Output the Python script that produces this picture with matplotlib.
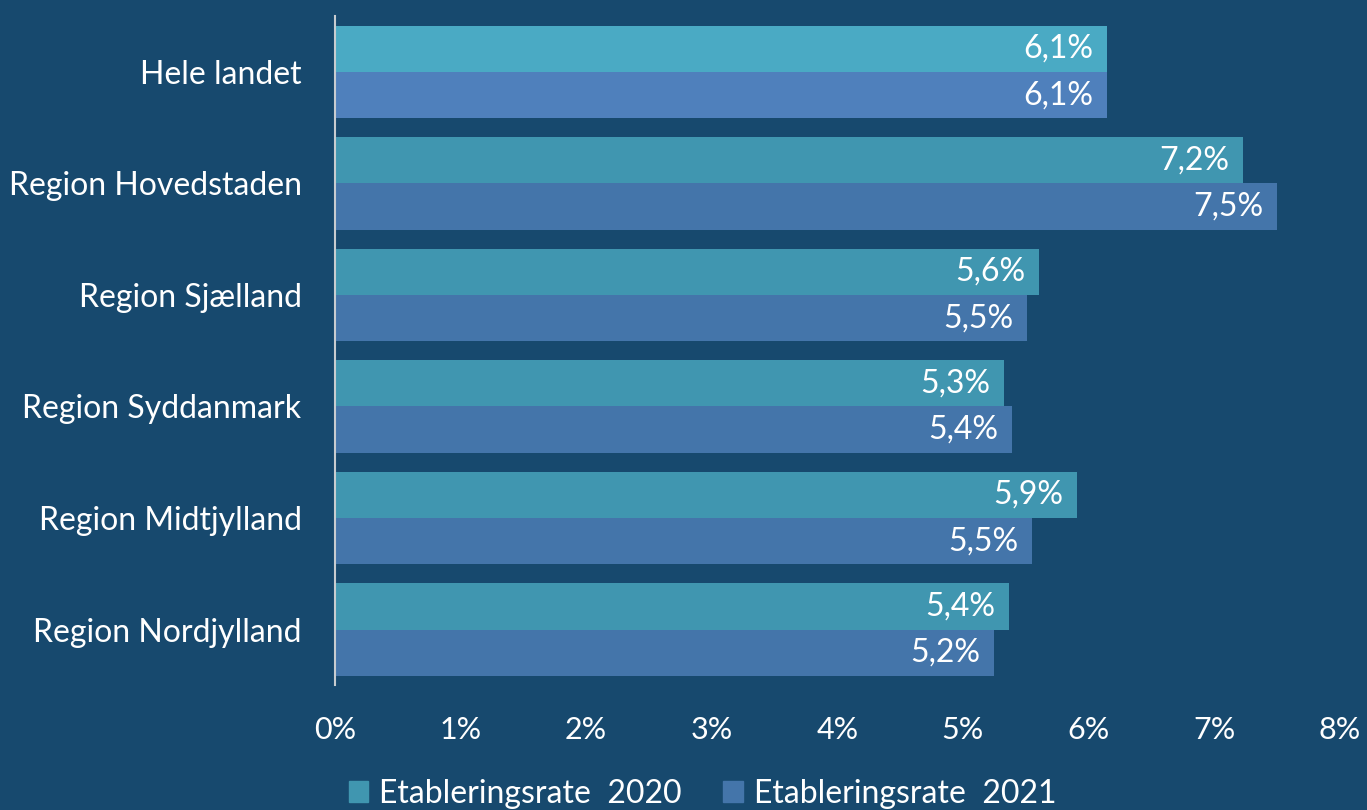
import numpy as np
import matplotlib.pyplot as plt
from matplotlib.patches import Patch

categories = ["Hele landet", "Region Hovedstaden", "Region Sjælland",
              "Region Syddanmark", "Region Midtjylland", "Region Nordjylland"]
# bar lengths, labels as printed
rate_2020 = [6.15, 7.23, 5.61, 5.33, 5.91, 5.37]
rate_2021 = [6.15, 7.50, 5.51, 5.39, 5.55, 5.25]
labels_2020 = ["6,1%", "7,2%", "5,6%", "5,3%", "5,9%", "5,4%"]
labels_2021 = ["6,1%", "7,5%", "5,5%", "5,4%", "5,5%", "5,2%"]
xticks = [0, 1, 2, 3, 4, 5, 6, 7, 8]

bg = "#17496e"
c20 = "#4096b0"
c21 = "#4475aa"
c20_total = "#4aaac4"
c21_total = "#4f80bc"

plt.rcParams['font.family'] = ['Lato', 'DejaVu Sans']

fig = plt.figure(figsize=(13.67, 8.1), dpi=100, facecolor=bg)
ax = fig.add_axes([0.245, 0.154, 0.735, 0.826], facecolor=bg)

y = np.arange(len(categories))
h = 0.415
cols20 = [c20_total] + [c20] * (len(categories) - 1)
cols21 = [c21_total] + [c21] * (len(categories) - 1)
ax.barh(y - h / 2, rate_2020, height=h, color=cols20)
ax.barh(y + h / 2, rate_2021, height=h, color=cols21)

for yi, v, lab in zip(y, rate_2020, labels_2020):
    ax.text(v - 0.11, yi - h / 2, lab, color="white",
            ha="right", va="center", fontsize=23)
for yi, v, lab in zip(y, rate_2021, labels_2021):
    ax.text(v - 0.11, yi + h / 2, lab, color="white",
            ha="right", va="center", fontsize=23)

ax.set_ylim(len(categories) - 0.5, -0.5)
ax.set_xlim(0, 8)
ax.set_yticks(y)
ax.set_yticklabels(categories, fontsize=23, color="white")
ax.set_xticks(xticks)
ax.set_xticklabels([f"{t}%" for t in xticks], fontsize=22, color="white")
ax.tick_params(axis="both", length=0)
ax.tick_params(axis="y", pad=24)
ax.tick_params(axis="x", pad=22)
for s in ["top", "right", "bottom"]:
    ax.spines[s].set_visible(False)
ax.spines["left"].set_color("#c8ccd0")
ax.spines["left"].set_linewidth(1.5)

handles = [Patch(color=c20, label="Etableringsrate  2020"),
           Patch(color=c21, label="Etableringsrate  2021")]
fig.legend(handles=handles, loc="center", bbox_to_anchor=(0.514, 0.02), ncol=2,
           frameon=False, fontsize=23, labelcolor="white", handlelength=0.6,
           handleheight=0.6, handletextpad=0.35, columnspacing=1.3)

fig.savefig("out.png", dpi=100, facecolor=bg)
